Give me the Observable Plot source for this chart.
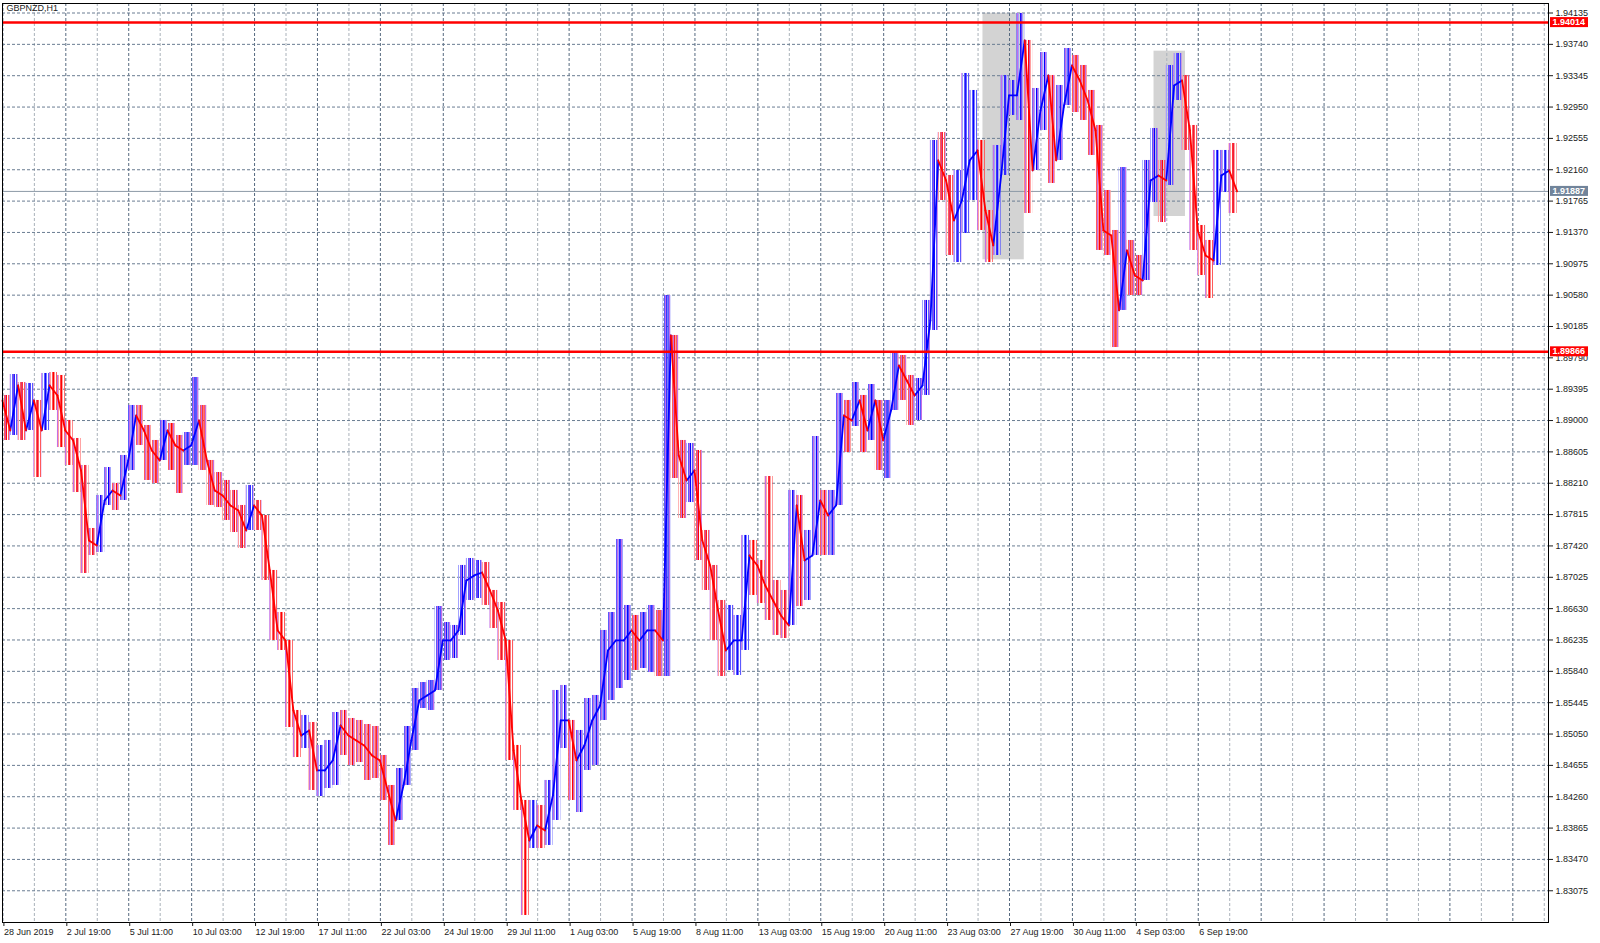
<!DOCTYPE html>
<html><head><meta charset="utf-8">
<script src="https://cdn.jsdelivr.net/npm/d3@7"></script>
<script src="https://cdn.jsdelivr.net/npm/@observablehq/plot@0.6"></script>
<style>html,body{margin:0;padding:0;background:#fff;overflow:hidden}</style>
</head><body><div id="chart"></div>
<script>
const symbol = "GBPNZD,H1";
const barsPerCandle = 8;      // each entry aggregates 8 hourly bars
const firstOpen = 1.89253;
const high = [1.89316,1.89580,1.89479,1.89467,1.89253,1.89593,1.89605,1.89568,1.89001,1.88774,
1.88434,1.87640,1.88056,1.88408,1.88207,1.88560,1.89190,1.89190,1.88938,1.88749,
1.89001,1.88963,1.88812,1.88849,1.89542,1.89190,1.88434,1.88345,1.88245,1.88119,
1.87930,1.88182,1.87993,1.87804,1.87048,1.86581,1.86103,1.85284,1.85284,1.85195,
1.84906,1.84969,1.85321,1.85347,1.85246,1.85221,1.85170,1.85145,1.84780,1.84402,
1.84616,1.85145,1.85624,1.85699,1.85725,1.86657,1.86455,1.86418,1.87174,1.87262,
1.87237,1.87211,1.86796,1.86707,1.86229,1.84906,1.84213,1.84213,1.84150,1.84465,
1.85599,1.85662,1.85221,1.85095,1.85498,1.85536,1.86355,1.86581,1.87501,1.86670,
1.86544,1.86581,1.86670,1.86607,1.90576,1.89757,1.88749,1.88711,1.88623,1.87615,
1.87111,1.86733,1.86670,1.86544,1.87552,1.87489,1.87237,1.88295,1.86985,1.86859,
1.88119,1.88056,1.87615,1.88799,1.88119,1.88119,1.89341,1.89253,1.89479,1.89316,
1.89454,1.89127,1.89253,1.89857,1.89820,1.89568,1.89530,1.90513,1.92529,1.92629,
1.92088,1.92151,1.93373,1.93159,1.92529,1.91458,1.92466,1.93348,1.93285,1.94129,
1.93789,1.93184,1.93637,1.93159,1.93222,1.93688,1.93600,1.93474,1.93159,1.92718,
1.91899,1.91395,1.92188,1.91269,1.91080,1.92277,1.92680,1.92277,1.93474,1.93625,
1.93348,1.92718,1.91458,1.91269,1.92403,1.92403,1.92491];
const low = [1.88749,1.88812,1.88749,1.88938,1.88282,1.89190,1.89127,1.88660,1.88434,1.88093,
1.87073,1.87300,1.87337,1.87930,1.87867,1.87993,1.88371,1.88686,1.88245,1.88207,
1.88560,1.88371,1.88081,1.88434,1.88434,1.88371,1.87930,1.87904,1.87741,1.87589,
1.87388,1.87640,1.87615,1.86985,1.86229,1.86103,1.85132,1.84754,1.84868,1.84339,
1.84263,1.84364,1.84402,1.84780,1.84654,1.84691,1.84465,1.84490,1.84213,1.83646,
1.84024,1.84528,1.84843,1.85372,1.85347,1.85788,1.85977,1.86002,1.86292,1.86733,
1.86758,1.86670,1.86380,1.85977,1.84717,1.84087,1.82764,1.83608,1.83608,1.83646,
1.83961,1.84868,1.84213,1.84061,1.84591,1.84654,1.85221,1.85473,1.85624,1.85725,
1.85851,1.85876,1.85825,1.85775,1.85775,1.88270,1.87766,1.87967,1.87237,1.86859,
1.86229,1.85775,1.85851,1.85788,1.86103,1.86796,1.86695,1.86481,1.86292,1.86254,
1.86418,1.86657,1.86733,1.87426,1.87300,1.87300,1.87993,1.88597,1.88925,1.88597,
1.88749,1.88371,1.88270,1.89316,1.89253,1.88938,1.89001,1.89316,1.90135,1.91773,
1.91080,1.90991,1.91357,1.91773,1.91395,1.90991,1.91080,1.92277,1.92844,1.92781,
1.91609,1.92466,1.92655,1.91987,1.92655,1.93096,1.92881,1.92781,1.92340,1.91143,
1.91080,1.89920,1.90513,1.90576,1.90576,1.90765,1.91747,1.91495,1.91962,1.93033,
1.92403,1.91143,1.90828,1.90538,1.90954,1.91873,1.91609];
const close = [1.88875,1.89442,1.88875,1.89253,1.88875,1.89442,1.89316,1.88875,1.88749,1.88371,
1.87489,1.87426,1.87993,1.88119,1.88056,1.88497,1.89064,1.88875,1.88623,1.88497,
1.88875,1.88686,1.88623,1.88686,1.89001,1.88497,1.88119,1.88056,1.87930,1.87867,
1.87615,1.87930,1.87804,1.87111,1.86355,1.86229,1.85347,1.85032,1.85095,1.84591,
1.84591,1.84717,1.85158,1.85032,1.84969,1.84906,1.84780,1.84717,1.84339,1.83961,
1.84402,1.84969,1.85473,1.85536,1.85599,1.86229,1.86229,1.86355,1.86985,1.87048,
1.87085,1.86859,1.86607,1.86229,1.84843,1.84213,1.83709,1.83898,1.83835,1.84276,
1.85221,1.85221,1.84717,1.84906,1.85221,1.85410,1.86103,1.86229,1.86229,1.86355,
1.86229,1.86355,1.86355,1.86229,1.90072,1.88560,1.88245,1.88371,1.87489,1.87174,
1.86607,1.86103,1.86229,1.86229,1.87300,1.87174,1.86922,1.86733,1.86544,1.86418,
1.87930,1.87237,1.87300,1.87993,1.87804,1.87930,1.89064,1.89001,1.89253,1.88875,
1.89253,1.88749,1.89127,1.89694,1.89505,1.89316,1.89442,1.90261,1.92277,1.92025,
1.91521,1.91773,1.92277,1.92403,1.91647,1.91206,1.92088,1.93096,1.93096,1.93789,
1.92151,1.92907,1.93348,1.92277,1.92970,1.93474,1.93285,1.93033,1.92655,1.91395,
1.91332,1.90387,1.91143,1.90828,1.90765,1.92025,1.92088,1.92025,1.93222,1.93285,
1.92655,1.91395,1.91080,1.91017,1.92088,1.92151,1.91887];

const timeLabels = ["28 Jun 2019","2 Jul 19:00","5 Jul 11:00","10 Jul 03:00","12 Jul 19:00","17 Jul 11:00","22 Jul 03:00","24 Jul 19:00","29 Jul 11:00","1 Aug 03:00","5 Aug 19:00","8 Aug 11:00","13 Aug 03:00","15 Aug 19:00","20 Aug 11:00","23 Aug 03:00","27 Aug 19:00","30 Aug 11:00","4 Sep 03:00","6 Sep 19:00"];
const barsPerLabel = 64;
const priceTop = 1.94135, priceStep = 0.00395, priceCount = 29;
const priceLevels = d3.range(priceCount).map(k => +(priceTop - priceStep * k).toFixed(5));
const resistance = 1.94014, support = 1.89866, bid = 1.91887;
const zoneBar1 = [997, 1171], zoneBar2 = [1039, 1203];
const zoneTop = [1.94132, 1.93654], zoneBottom = [1.91025, 1.91571];

// derived tables
const candles = close.map((c, j) => {
  const o = j ? close[j - 1] : firstOpen;
  return {x1: j * barsPerCandle - 0.5, x2: j * barsPerCandle + barsPerCandle - 0.5,
          xm: j * barsPerCandle + barsPerCandle / 2 - 0.5,
          open: o, close: c, high: Math.max(high[j], o, c), low: Math.min(low[j], o, c), up: c >= o};
});
const ups = candles.filter(d => d.up), downs = candles.filter(d => !d.up);
const zones = zoneBar1.map((b, i) => ({b1: b, b2: zoneBar2[i], top: zoneTop[i], bottom: zoneBottom[i]}));
const labelBars = timeLabels.map((_, i) => i * barsPerLabel);
const gridBars = d3.range(0, 1573, barsPerLabel / 2);
const gridMajor = gridBars.filter((_, i) => i % 2 === 0), gridMinor = gridBars.filter((_, i) => i % 2 === 1);

const font = "Liberation Sans, Arial, sans-serif";
const BLUE = "#0000ff", RED = "#ff0000";
const plot = Plot.plot({
  width: 1600, height: 943,
  marginLeft: 2, marginRight: 52, marginTop: 3, marginBottom: 21,
  x: {domain: [-0.41, 1572.3]},
  y: {domain: [1.826753, 1.942547]},
  style: {fontFamily: font, fontSize: "9px", color: "#1a1a1a", background: "#fff", overflow: "visible"},
  marks: [
    Plot.rect(zones, {x1: "b1", x2: "b2", y1: "bottom", y2: "top", fill: "#d3d3d3"}),
    Plot.ruleX(gridMinor, {stroke: "#aab2ba", strokeDasharray: "3,2"}),
    Plot.ruleX(gridMajor, {stroke: "#56697f", strokeDasharray: "3,2"}),
    Plot.ruleY(priceLevels, {stroke: "#6a7d92", strokeDasharray: "3,2"}),
    Plot.ruleY([bid], {stroke: "#8c99a6", strokeWidth: 1}),
    // thin-bar texture over each 8-hour range
    Plot.rect(ups, {x1: "x1", x2: "x2", y1: "low", y2: "high", fill: "url(#rangeUp)"}),
    Plot.rect(downs, {x1: "x1", x2: "x2", y1: "low", y2: "high", fill: "url(#rangeDown)"}),
    // wicks
    Plot.ruleX(ups, {x: "xm", y1: "low", y2: "high", stroke: BLUE, strokeWidth: 1.2}),
    Plot.ruleX(downs, {x: "xm", y1: "low", y2: "high", stroke: RED, strokeWidth: 1.2}),
    // open -> close path across each 8-hour block
    Plot.link(ups, {x1: "x1", y1: "open", x2: "x2", y2: "close", stroke: BLUE, strokeWidth: 1.8, strokeLinecap: "round"}),
    Plot.link(downs, {x1: "x1", y1: "open", x2: "x2", y2: "close", stroke: RED, strokeWidth: 1.8, strokeLinecap: "round"}),
    Plot.ruleY([resistance, support], {stroke: RED, strokeWidth: 2.5}),
    Plot.frame({stroke: "#000"}),
    Plot.axisY({ticks: priceLevels, anchor: "right", tickSize: 4, tickPadding: 3, tickFormat: d => d.toFixed(5), fontSize: 9, label: null}),
    Plot.axisX({ticks: labelBars, anchor: "bottom", tickSize: 4, tickPadding: 2, textAnchor: "start", dx: 1,
                tickFormat: d => timeLabels[Math.round(d / barsPerLabel)], fontSize: 9, label: null}),
    Plot.text([symbol], {frameAnchor: "top-left", dx: 4, dy: 1, lineAnchor: "top", fontSize: 9, fill: "#222"})
  ]
});

const svg = d3.select(plot);
// stripe patterns imitating adjacent 1-px hourly bars
const defs = svg.insert("defs", ":first-child");
function stripes(id, cols) {
  const p = defs.append("pattern").attr("id", id).attr("patternUnits", "userSpaceOnUse")
    .attr("width", cols.length).attr("height", 8);
  cols.forEach((c, i) => { if (c) p.append("rect").attr("x", i).attr("y", 0).attr("width", 1).attr("height", 8).attr("fill", c); });
}
stripes("rangeUp", ["#5a5aff", "#c36ee6", "#a0a0ff", null]);
stripes("rangeDown", ["#ff5a5a", "#c36ee6", "#ffa0a0", null]);

const y = plot.scale("y");
for (const [v, fill] of [[resistance, RED], [support, RED], [bid, "#71849a"]]) {
  const yy = y.apply(v);
  svg.append("rect").attr("x", 1550).attr("y", yy - 5).attr("width", 38).attr("height", 10).attr("fill", fill);
  svg.append("text").attr("x", 1552.5).attr("y", yy).attr("dy", "0.34em").attr("text-anchor", "start")
     .attr("fill", "#fff").attr("font-weight", "bold").attr("font-size", 9).attr("font-family", font)
     .text(v.toFixed(5));
}
document.getElementById("chart").appendChild(plot);
</script></body></html>
